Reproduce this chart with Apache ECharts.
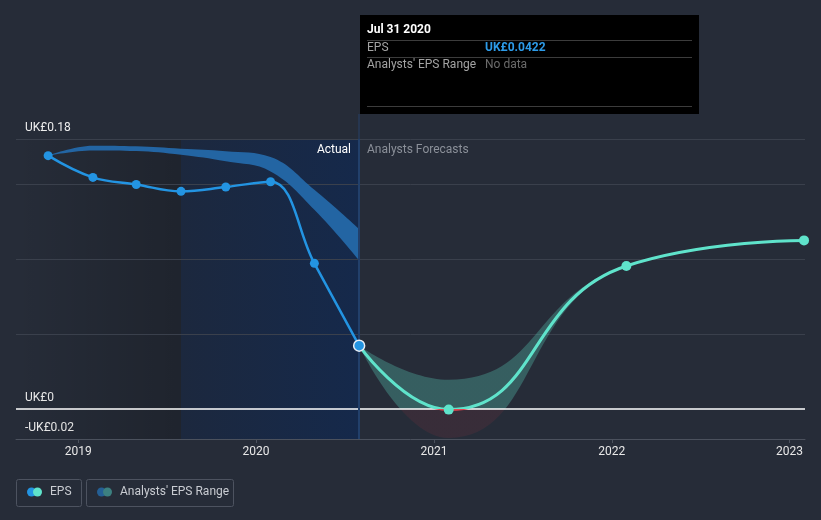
<!DOCTYPE html>
<html>
<head>
<meta charset="utf-8">
<script src="https://cdn.jsdelivr.net/npm/echarts@6/dist/echarts.min.js"></script>
<style>
  html, body { margin: 0; padding: 0; background: #262c38; }
  #chart { width: 821px; height: 520px; }
</style>
</head>
<body>
<div id="chart"></div>
<script>
// ---- data ----
const actualDates = ['2018-10-31','2019-01-31','2019-04-30','2019-07-31','2019-10-31','2020-01-31','2020-04-30','2020-07-31'];
const actualEps   = [0.1689, 0.1544, 0.1497, 0.1451, 0.1480, 0.1515, 0.0971, 0.0422];
const pastRangeHigh = [0.1689, 0.1755, 0.1751, 0.1735, 0.1718, 0.1680, 0.1462, 0.1200];
const pastRangeLow  = [0.1689, 0.1724, 0.1720, 0.1695, 0.1651, 0.1584, 0.1329, 0.0991];
const forecastDates = ['2020-07-31','2021-01-31','2022-01-31','2023-01-31'];
const forecastEps   = [0.0422, -0.0004, 0.0953, 0.1124];
const forecastHigh  = [0.0422, 0.0195, 0.0953, 0.1124];
const forecastLow   = [0.0422, -0.0193, 0.0953, 0.1124];
const yearTicks = ['2019-01-01','2020-01-01','2021-01-01','2022-01-01','2023-01-01'];
const yLabelValues = [-0.02, 0, 0.18];
const gridValues = [0.05, 0.10, 0.15, 0.18];
const xMin = '2018-08-26', xMax = '2023-02-02';
const pastStart = '2019-07-31', forecastStart = '2020-07-31';

// ---- chart ----
const chart = echarts.init(document.getElementById('chart'), null, { renderer: 'canvas' });
const P = s => echarts.time.parse(s).getTime();
const zip = (d, v) => d.map((x, i) => [P(x), v[i]]);
const diff = (a, b) => a.map((v, i) => +(v - b[i]).toFixed(6));
const FONT = 'Roboto';
const lastIdx = actualEps.length - 1;
const hoverDate = echarts.time.format(P(actualDates[lastIdx]), '{MMM} {dd} {yyyy}', false);
const hoverVal = 'UK£' + actualEps[lastIdx].toFixed(4);

const option = {
  backgroundColor: '#262c38',
  animation: false,
  textStyle: { fontFamily: FONT },
  grid: { left: 16, right: 16, top: 139, bottom: 81, containLabel: false },
  xAxis: [{
    type: 'value', min: P(xMin), max: P(xMax), z: 8, scale: true,
    axisLine: { show: true, onZero: false, lineStyle: { color: '#4b515d', width: 1 } },
    axisTick: { show: true, length: 4, lineStyle: { color: '#4b515d' }, customValues: yearTicks.map(P) },
    axisLabel: { color: '#e8e8e8', fontSize: 12, fontFamily: FONT, margin: 7,
      customValues: yearTicks.map(P), formatter: v => String(new Date(v).getFullYear()) },
    splitLine: { show: false }
  }, {
    // hidden twin time axis (same extent) so that range bands stack on the value dimension
    type: 'time', min: P(xMin), max: P(xMax), show: false
  }],
  yAxis: {
    type: 'value', min: -0.02, max: 0.18,
    axisLine: { show: false }, axisTick: { show: false }, splitLine: { show: false },
    axisLabel: {
      inside: true, margin: 9, color: '#eeeeee', fontSize: 12, fontFamily: FONT,
      verticalAlign: 'bottom', padding: [0, 0, 5, 0],
      customValues: yLabelValues,
      formatter: v => (v === 0 ? 'UK£0' : (v < 0 ? '-' : '') + 'UK£' + Math.abs(v).toFixed(2))
    }
  },
  visualMap: [
    { type: 'piecewise', show: false, seriesIndex: 4, dimension: 1,
      pieces: [{ gte: -1, lt: 0, color: 'rgba(160,50,62,0.15)' }, { gte: 0, lte: 1, color: 'rgba(95,224,200,0.28)' }] },
    { type: 'piecewise', show: false, seriesIndex: 6, dimension: 1,
      pieces: [{ gte: -1, lt: 0, color: '#e0454f' }, { gte: 0, lte: 1, color: '#5fe3cb' }] }
  ],
  series: [
    { // background regions + grid lines
      type: 'line', data: [], silent: true,
      markArea: {
        silent: true, z: 1,
        data: [
          [{ xAxis: P(xMin), itemStyle: { color: { type: 'linear', x: 0, y: 0, x2: 1, y2: 0,
              colorStops: [{ offset: 0, color: 'rgba(0,0,0,0)' }, { offset: 1, color: 'rgba(0,0,0,0.19)' }] } } },
           { xAxis: P(pastStart) }],
          [{ xAxis: P(pastStart), itemStyle: { color: { type: 'linear', x: 0, y: 0, x2: 1, y2: 0,
              colorStops: [{ offset: 0, color: '#1c283e' }, { offset: 1, color: '#15294b' }] } } },
           { xAxis: P(forecastStart) }]
        ]
      },
      markLine: {
        silent: true, z: 2, symbol: 'none', label: { show: false },
        lineStyle: { type: 'solid', color: '#3a404c', width: 1 },
        data: gridValues.map(v => ({ yAxis: v }))
      }
    },
    { // past range base
      type: 'line', xAxisIndex: 1, stack: 'past', stackStrategy: 'all', z: 3, smooth: 0.4, symbol: 'none', silent: true,
      lineStyle: { opacity: 0 }, data: zip(actualDates, pastRangeLow)
    },
    { // past range band
      type: 'line', xAxisIndex: 1, stack: 'past', stackStrategy: 'all', z: 3, smooth: 0.4, symbol: 'none', silent: true,
      lineStyle: { opacity: 0 }, areaStyle: { color: '#2365a3', opacity: 1 },
      data: zip(actualDates, diff(pastRangeHigh, pastRangeLow))
    },
    { // forecast range base
      type: 'line', xAxisIndex: 1, stack: 'fc', stackStrategy: 'all', z: 3, smooth: 0.5, symbol: 'none', silent: true,
      lineStyle: { opacity: 0 }, data: zip(forecastDates, forecastLow)
    },
    { // forecast range band
      type: 'line', xAxisIndex: 1, stack: 'fc', stackStrategy: 'all', z: 3, smooth: 0.5, symbol: 'none', silent: true,
      lineStyle: { opacity: 0 }, areaStyle: { opacity: 1 },
      data: zip(forecastDates, diff(forecastHigh, forecastLow))
    },
    { // zero line + divider
      type: 'line', data: [], silent: true,
      markLine: {
        silent: true, z: 4, symbol: 'none', label: { show: false },
        data: [
          { yAxis: 0, lineStyle: { type: 'solid', color: '#ffffff', width: 1.5 } },
          { xAxis: P(forecastStart), lineStyle: { type: 'solid', color: '#22406b', width: 2 } }
        ]
      }
    },
    { // forecast EPS line
      type: 'line', z: 5, smooth: 0.5, showSymbol: false, silent: true,
      lineStyle: { width: 3 }, data: zip(forecastDates, forecastEps)
    },
    { // forecast EPS points
      type: 'scatter', z: 6, symbolSize: 10, silent: true,
      itemStyle: { color: '#5fe3cb', opacity: 1 },
      data: zip(forecastDates, forecastEps).slice(1)
    },
    { // actual EPS
      type: 'line', z: 7, smooth: 0.4, symbol: 'circle', symbolSize: 9, silent: true,
      lineStyle: { width: 2.5, color: '#2394e2' }, itemStyle: { color: '#2394e2' },
      data: actualDates.map((d, i) => i === lastIdx
        ? { value: [P(d), actualEps[i]], symbolSize: 11, itemStyle: { color: '#2394e2', borderColor: '#e8eef6', borderWidth: 1.5 } }
        : [P(d), actualEps[i]])
    }
  ],
  graphic: [
    // section labels
    { type: 'text', right: 821 - 351, top: 144, z: 20, style: { text: 'Actual', fill: '#ffffff', font: '12px ' + FONT } },
    { type: 'text', left: 367, top: 144, z: 20, style: { text: 'Analysts Forecasts', fill: '#8b9099', font: '12px ' + FONT } },
    // hover pointer extension
    { type: 'rect', shape: { x: 358, y: 114, width: 2, height: 25 }, style: { fill: '#263650' }, z: 1 },
    // hover box
    { type: 'rect', shape: { x: 360, y: 15, width: 339, height: 99 }, style: { fill: '#000000' }, z: 10 },
    { type: 'line', shape: { x1: 367, y1: 40.5, x2: 692, y2: 40.5 }, style: { stroke: '#3c3c3c', lineWidth: 1 }, z: 11 },
    { type: 'line', shape: { x1: 367, y1: 57.5, x2: 692, y2: 57.5 }, style: { stroke: '#3c3c3c', lineWidth: 1 }, z: 11 },
    { type: 'line', shape: { x1: 367, y1: 106.5, x2: 692, y2: 106.5 }, style: { stroke: '#3c3c3c', lineWidth: 1 }, z: 11 },
    { type: 'text', x: 367, y: 24, z: 11, style: { text: hoverDate, fill: '#ffffff', font: 'bold 12px ' + FONT } },
    { type: 'text', x: 367, y: 42, z: 11, style: { text: 'EPS', fill: '#a3a3a3', font: '12px ' + FONT } },
    { type: 'text', x: 485, y: 42, z: 11, style: { text: hoverVal, fill: '#2d9be8', font: 'bold 12px ' + FONT } },
    { type: 'text', x: 367, y: 59, z: 11, style: { text: "Analysts' EPS Range", fill: '#a3a3a3', font: '12px ' + FONT } },
    { type: 'text', x: 485, y: 59, z: 11, style: { text: 'No data', fill: '#6b6b6b', font: '12px ' + FONT } },
    // legend
    { type: 'rect', shape: { x: 16.5, y: 479.5, width: 65, height: 27, r: 2 }, style: { fill: 'none', stroke: '#4d5360', lineWidth: 1 } },
    { type: 'circle', shape: { cx: 31.5, cy: 492, r: 4.5 }, style: { fill: '#2394e2' } },
    { type: 'circle', shape: { cx: 37.5, cy: 492, r: 4.5 }, style: { fill: '#5fe3cb' } },
    { type: 'text', x: 50, y: 486, style: { text: 'EPS', fill: '#c9ccd2', font: '12px ' + FONT } },
    { type: 'rect', shape: { x: 86.5, y: 479.5, width: 147, height: 27, r: 2 }, style: { fill: 'none', stroke: '#4d5360', lineWidth: 1 } },
    { type: 'circle', shape: { cx: 101.5, cy: 492, r: 4.5 }, style: { fill: '#245f95' } },
    { type: 'circle', shape: { cx: 107.5, cy: 492, r: 4.5 }, style: { fill: '#3c8080' } },
    { type: 'text', x: 120, y: 486, style: { text: "Analysts' EPS Range", fill: '#c9ccd2', font: '12px ' + FONT } }
  ]
};
chart.setOption(option);
</script>
</body>
</html>
